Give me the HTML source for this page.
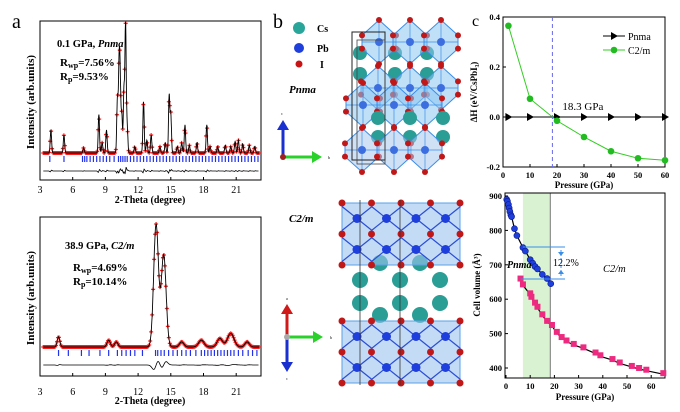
<!DOCTYPE html>
<html><head><meta charset="utf-8"><style>
html,body{margin:0;padding:0;background:#fff}
svg{display:block;font-family:"Liberation Serif",serif}
</style></head><body>
<svg id="fig" width="680" height="412" viewBox="0 0 680 412" xmlns="http://www.w3.org/2000/svg">
<g id="panelA">
<text x="12" y="28" font-size="20">a</text>
<rect x="40" y="21" width="221" height="159" fill="none" stroke="#000"/>
<rect x="40" y="217" width="221" height="159" fill="none" stroke="#000"/>
<g id="xrdTop"></g>
<g id="xrdBot"></g>
<text x="57" y="47" font-size="10.5" font-weight="bold">0.1 GPa, <tspan font-style="italic">Pnma</tspan></text>
<text x="60" y="66" font-size="11" font-weight="bold">R<tspan font-size="8" dy="2">wp</tspan><tspan dy="-2">=7.56%</tspan></text>
<text x="60" y="80" font-size="11" font-weight="bold">R<tspan font-size="8" dy="2">p</tspan><tspan dy="-2">=9.53%</tspan></text>
<text x="65" y="249" font-size="10.5" font-weight="bold">38.9 GPa, <tspan font-style="italic">C2/m</tspan></text>
<text x="73" y="271" font-size="11" font-weight="bold">R<tspan font-size="8" dy="2">wp</tspan><tspan dy="-2">=4.69%</tspan></text>
<text x="73" y="285" font-size="11" font-weight="bold">R<tspan font-size="8" dy="2">p</tspan><tspan dy="-2">=10.14%</tspan></text>
<text transform="translate(34,102) rotate(-90)" text-anchor="middle" font-size="11" font-weight="bold">Intensity (arb.units)</text>
<text transform="translate(34,298) rotate(-90)" text-anchor="middle" font-size="11" font-weight="bold">Intensity (arb.units)</text>
<text x="150" y="203" text-anchor="middle" font-size="10" font-weight="bold">2-Theta (degree)</text>
<text x="150" y="404" text-anchor="middle" font-size="10" font-weight="bold">2-Theta (degree)</text>
</g>
<g id="panelB">
<text x="273" y="28" font-size="20">b</text>
<circle cx="299" cy="28" r="6" fill="#2aa59a"/>
<text x="317" y="32" font-size="10" font-weight="bold">Cs</text>
<circle cx="299" cy="48" r="5" fill="#1f3fdc"/>
<text x="317" y="52" font-size="10" font-weight="bold">Pb</text>
<circle cx="299" cy="64" r="3.5" fill="#c81414"/>
<text x="320" y="68" font-size="10" font-weight="bold">I</text>
<text x="289" y="93" font-size="11" font-weight="bold" font-style="italic">Pnma</text>
<text x="289" y="222" font-size="11" font-weight="bold" font-style="italic">C2/m</text>
<g id="struct"></g>
<g>
<line x1="283" y1="157" x2="283" y2="128" stroke="#1a2fd0" stroke-width="3"/><polygon points="277,130 289,130 283,120" fill="#1a2fd0"/>
<line x1="283" y1="157" x2="314" y2="157" stroke="#2bd12b" stroke-width="3"/><polygon points="312,151 312,163 322,157" fill="#2bd12b"/>
<circle cx="283" cy="157" r="3" fill="#a02020"/>
<text x="281" y="115" font-size="4">c</text><text x="328" y="159" font-size="4">b</text></g>
<g>
<line x1="287" y1="337" x2="287" y2="312" stroke="#d01a1a" stroke-width="3"/><polygon points="281,314 293,314 287,304" fill="#d01a1a"/>
<line x1="287" y1="337" x2="287" y2="364" stroke="#1a2fd0" stroke-width="3"/><polygon points="281,362 293,362 287,372" fill="#1a2fd0"/>
<line x1="287" y1="337" x2="314" y2="337" stroke="#2bd12b" stroke-width="3"/><polygon points="313,331 313,343 323,337" fill="#2bd12b"/>
<circle cx="287" cy="337" r="3" fill="#aaa"/>
<text x="286" y="300" font-size="4">a</text><text x="330" y="339" font-size="4">b</text><text x="286" y="380" font-size="4">c</text></g>
</g>
<g id="panelC">
<text x="472" y="26" font-size="16">c</text>
<g id="enth"></g>
<g id="vol"></g>
</g>
</svg>
<script>
const topPeakPos = [4.0,5.2,7.0,8.4,8.7,9.1,10.1,10.25,10.35,10.5,10.7,10.85,11.0,11.7,12.5,12.8,13.2,14.0,14.5,14.85,15.0,15.6,16.0,16.3,16.7,17.4,18.3,18.6,19.3,20.0,20.5,20.9,21.2,21.6,22.2,22.7];
const topPeakHt  = [0.18,0.14,0.04,0.30,0.08,0.18,0.42,0.62,0.55,0.30,0.48,1.0,0.20,0.05,0.40,0.10,0.14,0.05,0.08,0.45,0.30,0.05,0.08,0.22,0.06,0.08,0.22,0.05,0.05,0.06,0.05,0.09,0.10,0.07,0.06,0.05];
const botPeakPos = [4.7,9.3,10.0,13.65,14.35,16.0,17.8,19.5,20.5,22.0];
const botPeakHt  = [0.06,0.04,0.03,0.72,0.54,0.03,0.04,0.05,0.08,0.03];
const botPeakW   = [0.12,0.15,0.15,0.22,0.22,0.2,0.25,0.25,0.3,0.2];
const topTicks = [3,6,9,12,15,18,21];
const topTickPos=[3.9,5.2,6.9,7.1,7.3,7.6,7.9,8.2,8.5,8.8,9.1,9.4,9.8,10.2,10.4,10.6,10.8,11.0,11.3,11.6,11.9,12.2,12.5,12.8,13.1,13.4,13.7,14.0,14.3,14.6,14.9,15.2,15.5,15.8,16.1,16.4,16.7,17.0,17.3,17.6,17.9,18.2,18.5,18.8,19.1,19.4,19.7,20.0,20.3,20.6,20.9,21.2,21.5,21.8,22.1,22.4,22.7,23.0];
const botTickPos=[4.7,5.6,6.8,7.5,8.5,9.3,10.1,10.5,10.9,11.3,11.7,12.4,13.6,13.8,14.1,14.4,14.8,15.2,15.6,16.0,16.4,16.8,17.3,17.8,18.1,18.4,18.7,19.0,19.3,19.6,19.9,20.2,20.5,20.8,21.2,21.6,22.1,22.5,22.9];

const NS='http://www.w3.org/2000/svg';
function mk(parent,tag,attrs){const e=document.createElementNS(NS,tag);for(const k in attrs)e.setAttribute(k,attrs[k]);parent.appendChild(e);return e;}
const xT = t => 40 + (t-3)*10.9;

function drawXRD(gid,pos,ht,wid,base,scale,tickY,diffY,boxBottom,labelY,tickPos){
  const g=document.getElementById(gid);
  const prof=t=>{let s=0;for(let i=0;i<pos.length;i++){const w=wid?wid[i]:0.06;s+=ht[i]*Math.exp(-((t-pos[i])**2)/(2*w*w));}return s;};
  let d='';
  for(let t=3.3;t<=23.1;t+=0.09){const y=base-prof(t)*scale;d+=`M${xT(t)-2},${y}h4M${xT(t)},${y-2}v4`;}
  const obs=mk(g,'path',{d:d,stroke:'#ff2020','stroke-width':1.3,fill:'none'});
  
  
  let c='';for(let t=3.3;t<=23.1;t+=0.02){const y=base-prof(t)*scale;c+=(c?'L':'M')+xT(t).toFixed(1)+','+y.toFixed(1);}
  const calc=mk(g,'path',{d:c,stroke:'#000','stroke-width':0.9,fill:'none'});
  
  
  tickPos.forEach(t=>{const l=mk(g,'line',{x1:xT(t),x2:xT(t),y1:tickY-3,y2:tickY+3,stroke:'#2233ee','stroke-width':1.2});
    
    });
  let df='';for(let t=3.3;t<=23.1;t+=0.05){let v=0;for(let i=0;i<pos.length;i++){const w=wid?wid[i]:0.06;const u=(t-pos[i])/w;v+=ht[i]*u*Math.exp(-u*u/2)*0.12;}df+=(df?'L':'M')+xT(t).toFixed(1)+','+(diffY-v*scale*0.5).toFixed(1);}
  const dp=mk(g,'path',{d:df,stroke:'#000','stroke-width':0.8,fill:'none'});
  
  
  topTicks.forEach(t=>{mk(g,'line',{x1:xT(t),x2:xT(t),y1:boxBottom,y2:boxBottom-3,stroke:'#000'});
    const tx=mk(g,'text',{x:xT(t),y:labelY,'text-anchor':'middle','font-size':10});tx.textContent=t;
    
    });
}
drawXRD('xrdTop',topPeakPos,topPeakHt,null,153,128,159,171,180,193,topTickPos);
drawXRD('xrdBot',botPeakPos,botPeakHt,botPeakW,347,170,353,365,376,395,botTickPos);

const S=document.getElementById('struct');
function octa(cx,cy,w,h,fill){
  mk(S,'polygon',{points:`${cx},${cy-h} ${cx+w},${cy-h*0.3} ${cx+w},${cy+h*0.3} ${cx},${cy+h} ${cx-w},${cy+h*0.3} ${cx-w},${cy-h*0.3}`,fill:fill,'fill-opacity':0.55,stroke:'#3a8ee8','stroke-width':1});
  mk(S,'line',{x1:cx-w,y1:cy,x2:cx+w,y2:cy,stroke:'#3a8ee8','stroke-width':0.7});
  mk(S,'line',{x1:cx,y1:cy-h,x2:cx,y2:cy+h,stroke:'#3a8ee8','stroke-width':0.7});
  mk(S,'circle',{cx:cx,cy:cy,r:4,fill:'#3c6ee0'});
  [[cx,cy-h],[cx,cy+h],[cx-w,cy+h*0.3],[cx+w,cy+h*0.3],[cx-w,cy-h*0.3],[cx+w,cy-h*0.3]].forEach(p=>mk(S,'circle',{cx:p[0],cy:p[1],r:3,fill:'#c01818'}));
}
const cs=(x,y,r)=>mk(S,'circle',{cx:x,cy:y,r:r||7,fill:'#2a9d95'});
[[360,53],[395,53],[427,53],[360,74],[395,74],[427,74]].forEach(p=>cs(p[0],p[1]));
[379,410,441].forEach(x=>octa(x,42,17,22,'#8cc6f2'));
[378,410,441].forEach(x=>octa(x,88,17,22,'#8cc6f2'));
[363,394,425].forEach(x=>octa(x,105,17,22,'#8cc6f2'));
[[378,118],[410,118],[443,118],[378,137],[410,137],[443,137]].forEach(p=>cs(p[0],p[1]));
[362,394,425].forEach(x=>octa(x,150,17,22,'#a9c8ee'));
mk(S,'rect',{x:352,y:32,width:33,height:128,fill:'none',stroke:'#222','stroke-width':1});
mk(S,'rect',{x:357,y:40,width:28,height:124,fill:'none',stroke:'#444','stroke-width':0.8});
function slab(y0,y1){
  mk(S,'rect',{x:342,y:y0,width:118,height:y1-y0,fill:'#9cc3ee','fill-opacity':0.6,stroke:'#5aa0e8'});
  for(let r=0;r<3;r++){const y=y0+(y1-y0)*r/2;
    for(let i=0;i<5;i++){const x=342+i*29.5;mk(S,'circle',{cx:x,cy:y,r:3.5,fill:'#c01818'});}}
  for(let r=0;r<2;r++){const y=y0+(y1-y0)*(r+0.5)/2;
    for(let i=0;i<4;i++){const x=357+i*29.5;
      mk(S,'line',{x1:x-15,y1:y-12,x2:x+15,y2:y+12,stroke:'#2a4fd8','stroke-width':1.2});
      mk(S,'line',{x1:x-15,y1:y+12,x2:x+15,y2:y-12,stroke:'#2a4fd8','stroke-width':1.2});
      mk(S,'circle',{cx:x,cy:y,r:4.5,fill:'#1f3fdc'});}}
}
[[380,263],[420,263],[380,315],[420,315]].forEach(p=>cs(p[0],p[1],8));
slab(203,265); slab(321,383);
[[360,280],[400,280],[440,280],[360,303],[400,303],[440,303]].forEach(p=>cs(p[0],p[1],8));
mk(S,'line',{x1:360,y1:200,x2:360,y2:385,stroke:'#333','stroke-width':0.8});
mk(S,'line',{x1:400,y1:200,x2:400,y2:385,stroke:'#333','stroke-width':0.8});

const ePress=[2,10,20,30,40,50,60];
const ePnma=[0,0,0,0,0,0,0];
const eC2m=[0.365,0.073,-0.015,-0.08,-0.137,-0.165,-0.173];
const eXTicks=[0,10,20,30,40,50,60];
const eYTicks=[-0.2,0.0,0.2,0.4];
const eYLabels=['-0.2','0.0','0.2','0.4'];
const eTrans=18.3;
(function(){
  const g=document.getElementById('enth');
  const X=p=>503+p*2.7, Y=v=>117-v*250;
  const fr=mk(g,'rect',{x:503,y:17,width:162,height:150,fill:'none',stroke:'#000'});
  
  
  eXTicks.forEach(t=>{mk(g,'line',{x1:X(t),x2:X(t),y1:167,y2:164,stroke:'#000'});
    const tx=mk(g,'text',{x:X(t),y:178,'text-anchor':'middle','font-size':8.5,'font-weight':'bold'});tx.textContent=t;
    
    });
  eYTicks.forEach((t,i)=>{mk(g,'line',{x1:503,x2:506,y1:Y(t),y2:Y(t),stroke:'#000'});
    const tx=mk(g,'text',{x:500,y:Y(t)+3,'text-anchor':'end','font-size':8.5,'font-weight':'bold'});tx.textContent=eYLabels[i];
    
    });
  const xt=mk(g,'text',{x:584,y:188,'text-anchor':'middle','font-size':9,'font-weight':'bold'});xt.textContent='Pressure (GPa)';
  
  
  const yt=mk(g,'text',{transform:'translate(477,92) rotate(-90)','text-anchor':'middle','font-size':9,'font-weight':'bold'});yt.textContent='ΔH (eV/CsPbI\u2083)';
  
  
  const dl=mk(g,'line',{x1:X(eTrans),x2:X(eTrans),y1:17,y2:167,stroke:'#6a6af0','stroke-dasharray':'4,3'});
  
  
  const tl=mk(g,'text',{x:X(eTrans)+10,y:110,'font-size':11});tl.textContent=eTrans+' GPa';
  
  
  const pl=mk(g,'polyline',{points:ePress.map((p,i)=>X(p)+','+Y(ePnma[i])).join(' '),fill:'none',stroke:'#000'});
  
  
  ePress.forEach((p,i)=>{const m=mk(g,'polygon',{points:`${X(p)-3},${Y(ePnma[i])-4} ${X(p)-3},${Y(ePnma[i])+4} ${X(p)+4},${Y(ePnma[i])}`,fill:'#000'});
    
    });
  const cl=mk(g,'polyline',{points:ePress.map((p,i)=>X(p)+','+Y(eC2m[i])).join(' '),fill:'none',stroke:'#33cc22'});
  
  
  ePress.forEach((p,i)=>{const m=mk(g,'circle',{cx:X(p),cy:Y(eC2m[i]),r:3.3,fill:'#22bb22'});
    
    });
  mk(g,'line',{x1:603,x2:625,y1:36,y2:36,stroke:'#000'});
  mk(g,'polygon',{points:'611,32 611,40 618,36',fill:'#000'});
  const l1=mk(g,'text',{x:628,y:40,'font-size':10});l1.textContent='Pnma';
  
  
  mk(g,'line',{x1:603,x2:625,y1:50,y2:50,stroke:'#33cc22'});
  mk(g,'circle',{cx:614,cy:50,r:3.3,fill:'#22bb22'});
  const l2=mk(g,'text',{x:628,y:54,'font-size':10});l2.textContent='C2/m';
  
  
})();

const vPnmaP=[0.3,0.6,1.0,1.3,1.6,2.0,2.3,3.5,4.5,7.0,8.0,10.0,11.0,12.0,13.0,15.0,17.0,18.5];
const vPnmaV=[890,885,875,865,855,845,840,805,785,750,740,715,705,695,688,672,660,645];
const vC2mP=[6,7,10,10.5,12,13,15,17,19,21,23,25,28,32,37,39,44,47,52,55,58,65];
const vC2mV=[660,643,617,607,590,578,556,537,525,505,490,480,470,460,445,437,426,416,406,400,395,385];
const vXTicks=[0,10,20,30,40,50,60];
const vYTicks=[400,500,600,700,800,900];
const vBand=[7,18.3];
(function(){
  const g=document.getElementById('vol');
  const X=p=>506+p*2.42, Y=v=>196+(900-v)*0.344;
  const band=mk(g,'rect',{x:X(vBand[0]),y:193,width:X(vBand[1])-X(vBand[0]),height:185,fill:'#d8f2d2'});
  
  
  mk(g,'line',{x1:X(vBand[1]),x2:X(vBand[1]),y1:193,y2:378,stroke:'#777'});
  const fr=mk(g,'rect',{x:505,y:193,width:160,height:185,fill:'none',stroke:'#000'});
  
  
  vXTicks.forEach(t=>{mk(g,'line',{x1:X(t),x2:X(t),y1:378,y2:375,stroke:'#000'});
    const tx=mk(g,'text',{x:X(t),y:389,'text-anchor':'middle','font-size':8.5,'font-weight':'bold'});tx.textContent=t;
    
    });
  vYTicks.forEach(t=>{mk(g,'line',{x1:505,x2:508,y1:Y(t),y2:Y(t),stroke:'#000'});
    const tx=mk(g,'text',{x:502,y:Y(t)+3,'text-anchor':'end','font-size':8.5,'font-weight':'bold'});tx.textContent=t;
    
    });
  const xt=mk(g,'text',{x:585,y:400,'text-anchor':'middle','font-size':9,'font-weight':'bold'});xt.textContent='Pressure (GPa)';
  
  
  const yt=mk(g,'text',{transform:'translate(480,285) rotate(-90)','text-anchor':'middle','font-size':9,'font-weight':'bold'});yt.textContent='Cell volume (Å\u00b3)';
  
  
  const f1=mk(g,'polyline',{points:vPnmaP.map((p,i)=>X(p)+','+Y(vPnmaV[i])).join(' '),fill:'none',stroke:'#000','stroke-width':1.2});
  
  
  const f2=mk(g,'polyline',{points:vC2mP.map((p,i)=>X(p)+','+(Y(vC2mV[i])+1)).join(' '),fill:'none',stroke:'#000','stroke-width':1.2});
  
  
  vPnmaP.forEach((p,i)=>{const m=mk(g,'circle',{cx:X(p),cy:Y(vPnmaV[i]),r:3,fill:'#1f3fdc',stroke:'#0a1a90','stroke-width':0.6});
    
    });
  vC2mP.forEach((p,i)=>{const m=mk(g,'rect',{x:X(p)-3,y:Y(vC2mV[i])-3,width:6,height:6,fill:'#ee2a80'});
    
    });
  mk(g,'line',{x1:X(7),x2:565,y1:247,y2:247,stroke:'#3a8ee8','stroke-width':1});
  mk(g,'line',{x1:X(6),x2:565,y1:279,y2:279,stroke:'#3a8ee8','stroke-width':1});
  mk(g,'line',{x1:561,x2:561,y1:250,y2:276,stroke:'#3a8ee8','stroke-dasharray':'2,2'});
  mk(g,'polygon',{points:'558,252 564,252 561,256',fill:'#3a8ee8'});
  mk(g,'polygon',{points:'558,274 564,274 561,270',fill:'#3a8ee8'});
  const a=mk(g,'text',{x:553,y:266,'font-size':10});a.textContent='12.2%';
  
  
  const p1=mk(g,'text',{x:507,y:268,'font-size':10,'font-weight':'bold','font-style':'italic'});p1.textContent='Pnma';
  
  
  const p2=mk(g,'text',{x:603,y:272,'font-size':10.5,'font-style':'italic'});p2.textContent='C2/m';
  
  
})();
</script>
</body></html>
